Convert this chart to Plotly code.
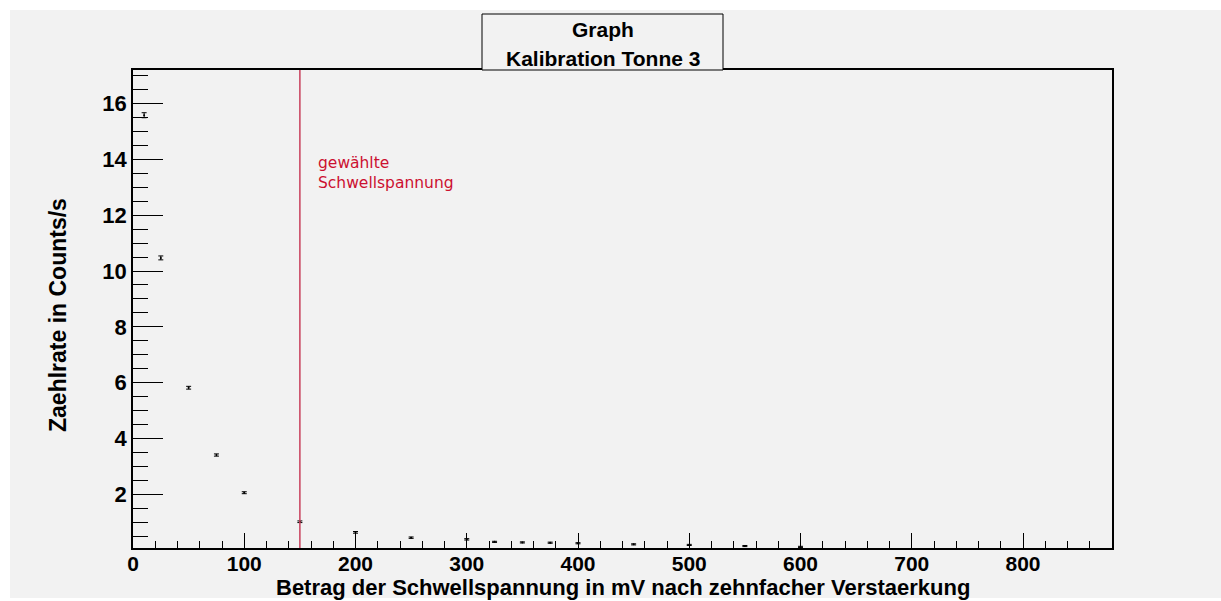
import plotly.graph_objects as go

# Threshold scan: count rate vs. threshold voltage (after x10 amplification)
threshold_mv = [10, 25, 50, 75, 100, 150, 200, 250, 300, 325, 350, 375, 400, 450, 500, 550, 600]
rate_hz = [15.58, 10.47, 5.82, 3.41, 2.06, 1.02, 0.64, 0.45, 0.39, 0.30, 0.28, 0.27, 0.25, 0.21, 0.19, 0.15, 0.12]
rate_err = [0.09, 0.07, 0.05, 0.04, 0.035, 0.03, 0.03, 0.025, 0.025, 0.02, 0.02, 0.02, 0.02, 0.02, 0.02, 0.02, 0.02]

chosen_threshold = 150
x_range = [0, 880]
y_range = [0.08, 17.2]

W, H = 1221, 601
L, R, T, B = 133, 1112, 70, 548
PW, PH = R - L, B - T


def px(x):
    return (x - L) / PW


def py(y):
    return (B - y) / PH


FONT = "Liberation Sans"
GREY = "#f2f2f2"

fig = go.Figure()
fig.add_trace(go.Scatter(
    x=threshold_mv, y=rate_hz,
    mode="markers",
    marker=dict(color="black", size=2),
    error_y=dict(type="data", array=rate_err, color="black", thickness=1, width=2.5),
    showlegend=False,
))

shapes = [
    # canvas background
    dict(type="rect", xref="paper", yref="paper", x0=px(10), x1=px(W), y0=py(598), y1=py(10),
         fillcolor=GREY, line=dict(width=0), layer="below"),
    # chosen threshold marker line
    dict(type="line", xref="x", yref="paper", x0=chosen_threshold, x1=chosen_threshold, y0=0, y1=1,
         line=dict(color="#c8405c", width=1.5)),
    # title box
    dict(type="rect", xref="paper", yref="paper", x0=px(482), x1=px(723), y0=py(70), y1=py(14),
         fillcolor=GREY, line=dict(color="black", width=1)),
]

annotations = [
    dict(text="<b>Graph</b>", xref="paper", yref="paper", x=px(602.5), y=py(29),
         showarrow=False, font=dict(family=FONT, size=21, color="black"), xanchor="center", yanchor="middle"),
    dict(text="<b>Kalibration Tonne 3</b>", xref="paper", yref="paper", x=px(602.5), y=py(58),
         showarrow=False, font=dict(family=FONT, size=21, color="black"), xanchor="center", yanchor="middle"),
    dict(text="gewählte<br>Schwellspannung", xref="paper", yref="paper", x=px(316), y=py(152),
         showarrow=False, align="left", xanchor="left", yanchor="top",
         font=dict(family="DejaVu Sans", size=15.5, color="#cc1030")),
    dict(text="<b>Zaehlrate in Counts/s</b>", xref="paper", yref="paper", x=px(58), y=py(315),
         showarrow=False, textangle=-90, xanchor="center", yanchor="middle",
         font=dict(family=FONT, size=23, color="black")),
    dict(text="<b>Betrag der Schwellspannung in mV nach zehnfacher Verstaerkung</b>", xref="paper",
         yref="paper", x=px(623), y=py(601), showarrow=False, xanchor="center", yanchor="bottom",
         borderpad=0, font=dict(family=FONT, size=22, color="black")),
]

fig.update_layout(
    width=W, height=H,
    margin=dict(l=L, r=W - R, t=T, b=H - B),
    paper_bgcolor="white",
    plot_bgcolor=GREY,
    shapes=shapes,
    annotations=annotations,
    xaxis=dict(
        range=x_range, dtick=100, tick0=0, showgrid=False, zeroline=False,
        showline=True, linecolor="black", linewidth=1.5, mirror=True,
        ticks="inside", ticklen=15, tickcolor="black", tickwidth=1,
        minor=dict(dtick=20, ticks="inside", ticklen=7, tickcolor="black", showgrid=False),
        tickfont=dict(family=FONT, size=21, color="black", weight="bold"),
        ticklabelstandoff=-4,
    ),
    yaxis=dict(
        range=y_range, dtick=2, tick0=0, showgrid=False, zeroline=False,
        showline=True, linecolor="black", linewidth=1.5, mirror=True,
        ticks="inside", ticklen=30, tickcolor="black", tickwidth=1,
        minor=dict(dtick=0.5, ticks="inside", ticklen=15, tickcolor="black", showgrid=False),
        tickfont=dict(family=FONT, size=22, color="black", weight="bold"),
    ),
)

fig.write_html("out.html")
